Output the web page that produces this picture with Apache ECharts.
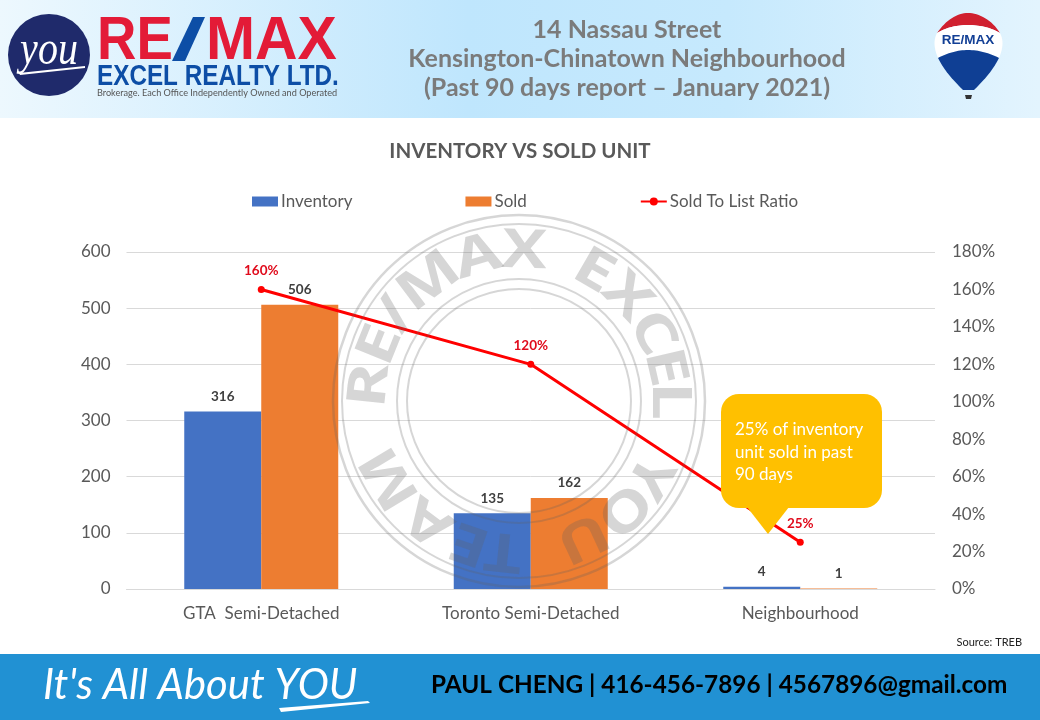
<!DOCTYPE html>
<html>
<head>
<meta charset="utf-8">
<style>html,body{margin:0;padding:0;background:#fff}#c{width:1040px;height:720px}</style>
<script src="https://cdn.jsdelivr.net/npm/echarts@6/dist/echarts.min.js"></script>
</head>
<body>
<div id="c"></div>
<script>
const categories = ['GTA  Semi-Detached', 'Toronto Semi-Detached', 'Neighbourhood'];
const inventory = [316, 135, 4];
const sold = [506, 162, 1];
const soldToListRatio = [160, 120, 25];
const chartTitle = 'INVENTORY VS SOLD UNIT';
const headerLines = ['14 Nassau Street', 'Kensington-Chinatown Neighbourhood', '(Past 90 days report \u2013 January 2021)'];
const calloutLines = ['25% of inventory', 'unit sold in past', '90 days'];
const stampLetters = [['R',-84],['E',-68],['/',-55],['M',-37],['A',-16],['X',2],['E',30],['X',46],['C',63],['E',77],['L',90],['Y',120],['O',136],['U',155],['T',186],['E',199],['A',217],['M',239]];

const FONT = 'Lato, "Open Sans", sans-serif';
const STAMP = 'rgba(95,95,95,0.26)';
const cx = 519, cy = 401;

const stamp = [186, 177, 122, 112].map((r, i) => ({
  type: 'circle', z: 20, silent: true,
  shape: {cx, cy, r},
  style: {fill: 'none', stroke: STAMP, lineWidth: i === 0 ? 2.5 : 2}
})).concat(stampLetters.map(([ch, deg]) => {
  const a = deg * Math.PI / 180;
  return {
    type: 'text', z: 20, silent: true,
    x: cx + 149 * Math.sin(a), y: cy - 149 * Math.cos(a),
    rotation: -a, scaleX: 1.25,
    style: {text: ch, font: 'bold 54px "Open Sans", sans-serif', fill: STAMP, textAlign: 'center', textVerticalAlign: 'middle'}
  };
}));

function txt(x, y, text, font, fill, align, extra) {
  return Object.assign({type: 'text', z: 30, silent: true, x, y,
    style: {text, font, fill, textAlign: align || 'left', textVerticalAlign: 'middle'}}, extra || {});
}
function poly(points, fill, z) {
  return {type: 'polygon', z: z || 30, silent: true, shape: {points}, style: {fill}};
}
function curve(p0, c1, c2, p1) {
  const out = [];
  for (let i = 0; i <= 16; i++) {
    const t = i / 16, u = 1 - t;
    out.push([0, 1].map(k => u*u*u*p0[k] + 3*u*u*t*c1[k] + 3*u*t*t*c2[k] + t*t*t*p1[k]));
  }
  return out;
}

const redCap = [...curve([937,33],[946,20],[957,13],[968,13]), ...curve([968,13],[979,13],[992,20],[1000,33]), ...curve([1000,33],[990,27],[978,25],[968,25]), ...curve([968,25],[958,25],[947,27],[937,33])];
const whiteBand = [...curve([937,33],[947,27],[958,25],[968,25]), ...curve([968,25],[978,25],[990,27],[1000,33]), ...curve([1000,33],[1003,39],[1004,46],[999,58]), ...curve([999,58],[990,53],[978,50],[968,50]), ...curve([968,50],[958,50],[947,53],[938,58]), ...curve([938,58],[933,46],[934,39],[937,33])];
const blueBody = [...curve([938,58],[947,53],[958,50],[968,50]), ...curve([968,50],[978,50],[990,53],[999,58]), ...curve([999,58],[992,72],[982,82],[974,90]), ...curve([963,90],[955,82],[945,72],[938,58])];

const header = [
  {type: 'rect', z: 5, silent: true, shape: {x: 0, y: 0, width: 1040, height: 118},
   style: {fill: {type: 'linear', x: 0, y: 0, x2: 1, y2: 0, colorStops: [
     {offset: 0, color: '#edf8fe'}, {offset: 0.45, color: '#bfe6fd'}, {offset: 0.7, color: '#c6e9fd'}, {offset: 1, color: '#e3f4fe'}]}}},
  {type: 'circle', z: 30, silent: true, shape: {cx: 49, cy: 55, r: 41}, style: {fill: '#1f2a6b'}},
  txt(49, 51, 'you', 'italic 40px "Liberation Serif", serif', '#fff', 'center', {scaleY: 1.2}),
  poly([[19,73],[85,66],[85,68],[20,75]], '#fff'),
  txt(97, 42, 'RE', 'bold 62px "Liberation Sans", sans-serif', '#e31b37', 'left', {scaleX: 0.88}),
  poly([[172,61],[185,61],[205,17],[193,17]], '#0d4ea6'),
  txt(206, 42, 'MAX', 'bold 62px "Liberation Sans", sans-serif', '#e31b37', 'left', {scaleX: 0.95}),
  txt(97, 77, 'EXCEL REALTY LTD.', 'bold 29px "Liberation Sans", sans-serif', '#0d4ea6', 'left', {scaleX: 0.837}),
  txt(97, 93, 'Brokerage. Each Office Independently Owned and Operated', '9.5px ' + FONT, '#555', 'left', {scaleX: 0.96}),
  ...headerLines.map((t, i) => txt(627, 30 + i * 29, t, 'bold 25px ' + FONT, '#7b7b7b', 'center')),
  poly(redCap, '#d0202f'),
  poly(whiteBand, '#ffffff'),
  poly(blueBody, '#0f3f94'),
  poly([[965,95],[972,95],[971,99],[966,99]], '#333'),
  txt(968, 40, 'RE/MAX', 'bold 13.5px "Liberation Sans", sans-serif', '#123f95', 'center'),
  {type: 'rect', z: 5, silent: true, shape: {x: 0, y: 654, width: 1040, height: 66}, style: {fill: '#2191d3'}},
  txt(43, 685, "It's All About YOU", 'italic 37px ' + FONT, '#fff', 'left', {scaleX: 1.13, scaleY: 1.15}),
  poly([[279,708],[368,701],[370,703],[281,712]], '#fff'),
  txt(431, 685, 'PAUL CHENG | 416-456-7896 | 4567896@gmail.com', 'bold 25px ' + FONT, '#000', 'left', {scaleX: 0.973}),
  txt(1022, 642, 'Source: TREB', '11px ' + FONT, '#222', 'right'),
  {type: 'rect', z: 40, silent: true, shape: {x: 721, y: 394, width: 161, height: 114, r: 18}, style: {fill: '#ffc000'}},
  poly([[747,507],[768,534],[789,507]], '#ffc000', 40),
  ...calloutLines.map((t, i) => txt(735, 430 + i * 22.5, t, '17px ' + FONT, '#fff', 'left', {z: 41}))
];

const chart = echarts.init(document.getElementById('c'), null, {renderer: 'canvas'});
chart.setOption({
  animation: false,
  backgroundColor: '#fff',
  textStyle: {fontFamily: FONT},
  title: {text: chartTitle, left: 'center', top: 136,
    textStyle: {fontFamily: FONT, fontSize: 20.5, fontWeight: 'bold', color: '#595959'}},
  legend: {
    left: 247, top: 188, itemWidth: 26, itemHeight: 10, itemGap: 113,
    textStyle: {fontFamily: FONT, fontSize: 17, color: '#595959', padding: [0, 0, 0, -2]},
    data: [{name: 'Inventory', icon: 'rect'}, {name: 'Sold', icon: 'rect'}, {name: 'Sold To List Ratio'}]
  },
  grid: {left: 126.5, right: 105, top: 252, bottom: 131},
  xAxis: {type: 'category', data: categories,
    axisTick: {show: false}, axisLine: {lineStyle: {color: '#d9d9d9'}},
    axisLabel: {fontFamily: FONT, fontSize: 17, color: '#595959', margin: 16}},
  yAxis: [
    {type: 'value', min: 0, max: 600, interval: 100,
      axisLabel: {fontFamily: FONT, fontSize: 17, color: '#595959', margin: 16, padding: [2, 0, 0, 0]},
      axisLine: {show: false}, axisTick: {show: false},
      splitLine: {lineStyle: {color: '#d9d9d9'}}},
    {type: 'value', min: 0, max: 180, interval: 20,
      axisLabel: {fontFamily: FONT, fontSize: 17, color: '#595959', margin: 17, padding: [2, 0, 0, 0], formatter: '{value}%'},
      axisLine: {show: false}, axisTick: {show: false}, splitLine: {show: false}}
  ],
  series: [
    {name: 'Inventory', type: 'bar', data: inventory, barWidth: 77, barGap: 0,
      itemStyle: {color: '#4472c4'},
      label: {show: true, position: 'top', distance: 8, fontFamily: FONT, fontSize: 13.5, fontWeight: 'bold', color: '#404040'}},
    {name: 'Sold', type: 'bar', data: sold, barWidth: 77, barGap: 0,
      itemStyle: {color: '#ed7d31'},
      label: {show: true, position: 'top', distance: 8, fontFamily: FONT, fontSize: 13.5, fontWeight: 'bold', color: '#404040'}},
    {name: 'Sold To List Ratio', type: 'line', yAxisIndex: 1, data: soldToListRatio,
      symbol: 'circle', symbolSize: 7, z: 5,
      lineStyle: {color: '#ff0000', width: 3}, itemStyle: {color: '#ff0000'},
      label: {show: true, position: 'top', distance: 8, fontFamily: FONT, fontSize: 13.5, fontWeight: 'bold', color: '#e00b1c', formatter: '{c}%'}}
  ],
  graphic: {elements: stamp.concat(header)}
});
</script>
</body>
</html>
